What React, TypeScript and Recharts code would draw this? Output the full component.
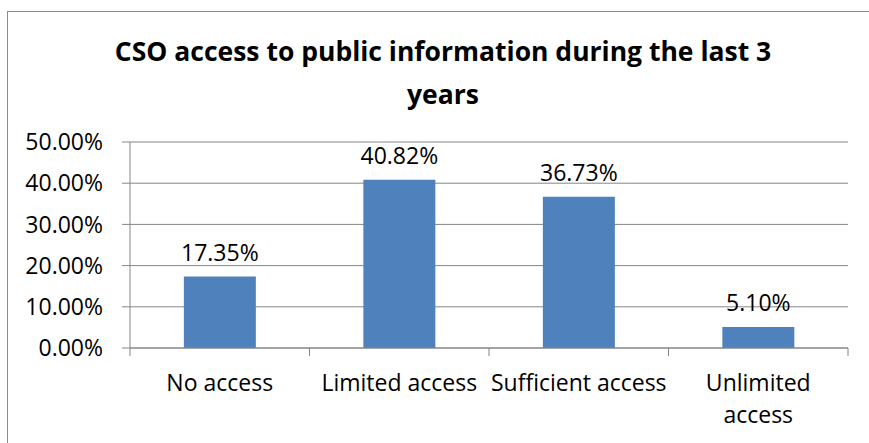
import React from "react";
import { BarChart, Bar, XAxis, YAxis, CartesianGrid, LabelList } from "recharts";

const categories = ["No access", "Limited access", "Sufficient access", "Unlimited\naccess"];
const shares = [0.1735, 0.4082, 0.3673, 0.051];
const yTicks = [0, 0.1, 0.2, 0.3, 0.4, 0.5];

const data = categories.map((name, i) => ({ name, value: shares[i] }));

const W = 869;
const H = 443;
const MARGIN = { top: 142, right: 21, bottom: 0, left: 0 };
const X_HEIGHT = 95;
const Y_WIDTH = 130;
const FONT = "'Open Sans', sans-serif";
const FS = 23;
const AXIS_GRAY = "#868686";

const pct = (v: number) => `${(v * 100).toFixed(2)}%`;

function CategoryTick(props: any) {
  const { x, y, payload, index } = props;
  const half = (W - MARGIN.right - Y_WIDTH) / categories.length / 2;
  const lines = String(payload.value).split("\n");
  return (
    <g>
      <line x1={x - half} x2={x - half} y1={y} y2={y + 8} stroke={AXIS_GRAY} />
      {index === categories.length - 1 && (
        <line x1={x + half} x2={x + half} y1={y} y2={y + 8} stroke={AXIS_GRAY} />
      )}
      <text textAnchor="middle" fontFamily={FONT} fontSize={FS} fill="#000">
        {lines.map((l, i) => (
          <tspan key={i} x={x} y={y + 43 + i * 32}>
            {l}
          </tspan>
        ))}
      </text>
    </g>
  );
}

export default function App() {
  return (
    <div style={{ position: "absolute", left: 0, top: 0, width: W, height: H, background: "#fff", overflow: "hidden" }}>
      <div
        style={{
          position: "absolute",
          left: 7,
          top: 11,
          width: W,
          height: H,
          borderTop: "1.5px solid #8c8c8c",
          borderLeft: "1.5px solid #8c8c8c",
        }}
      />
      <div
        style={{
          position: "absolute",
          left: 0,
          width: 886,
          top: 30,
          textAlign: "center",
          fontFamily: FONT,
          fontWeight: 700,
          fontSize: 26.5,
          lineHeight: "43px",
          color: "#000",
        }}
      >
        CSO access to public information during the last 3
        <br />
        years
      </div>
      <div style={{ position: "absolute", left: 0, top: 0 }}>
        <BarChart width={W} height={H} data={data} margin={MARGIN} barCategoryGap="30%">
          <CartesianGrid vertical={false} stroke={AXIS_GRAY} />
          <XAxis
            dataKey="name"
            interval={0}
            height={X_HEIGHT}
            tickLine={false}
            tickSize={0}
            tickMargin={0}
            stroke={AXIS_GRAY}
            tick={<CategoryTick />}
          />
          <YAxis
            width={Y_WIDTH}
            domain={[0, 0.5]}
            ticks={yTicks}
            tickFormatter={pct}
            tickSize={8}
            tickMargin={19}
            stroke={AXIS_GRAY}
            tick={{ fill: "#000", fontSize: FS, fontFamily: FONT }}
          />
          <Bar dataKey="value" fill="#4F81BD" isAnimationActive={false}>
            <LabelList
              dataKey="value"
              position="top"
              offset={16}
              formatter={(v: any) => pct(Number(v))}
              style={{ fill: "#000", fontSize: FS, fontFamily: FONT }}
            />
          </Bar>
        </BarChart>
      </div>
    </div>
  );
}
